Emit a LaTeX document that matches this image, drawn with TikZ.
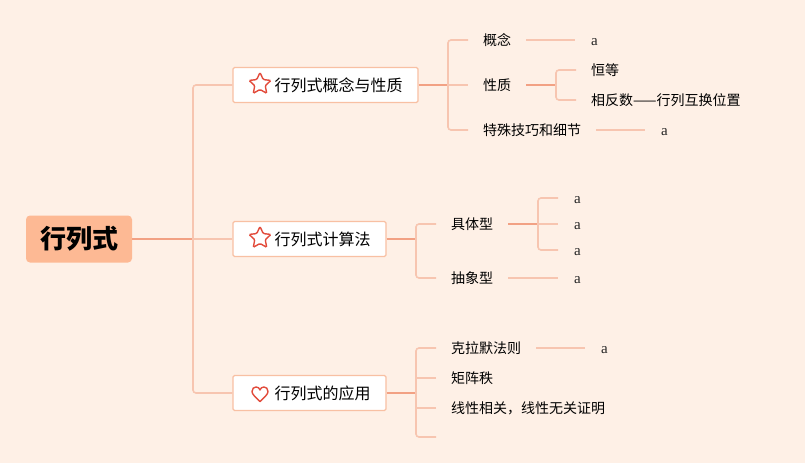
\documentclass[tikz,border=0pt]{standalone}
\usepackage{fontspec}
\newfontfamily\cjk{Noto Sans CJK SC}
\newfontfamily\leaffont{Liberation Serif}
\usetikzlibrary{shapes.geometric}
\definecolor{bgc}{HTML}{FEF0E6}
\definecolor{rootc}{HTML}{FDB994}
\definecolor{boxc}{HTML}{F8C0A3}
\definecolor{dkc}{HTML}{F2A184}
\definecolor{ltc}{HTML}{F7C5B0}
\definecolor{iconc}{HTML}{E24B3B}
\tikzset{
  root/.style={fill=rootc,rounded corners=4pt,minimum width=106pt,minimum height=47pt,inner sep=0pt,font=\cjk\bfseries\fontsize{26}{26}\selectfont},
  topic/.style={draw=boxc,fill=white,line width=1.2pt,rounded corners=1.5pt,minimum height=35pt,inner xsep=15.5pt,font=\cjk\fontsize{16}{16}\selectfont},
  sub/.style={anchor=west,inner xsep=15pt,font=\cjk\fontsize{14}{14}\selectfont},
  leaf/.style={anchor=west,inner xsep=16pt,text height=11pt,text depth=0pt,text=black!85,font=\leaffont\fontsize{15}{15}\selectfont},
  dk/.style={draw=dkc,line width=1.6pt},
  lt/.style={draw=ltc,line width=1.6pt,rounded corners=3pt},
  staricon/.style={star,star points=5,star point ratio=2.1,draw=iconc,line width=1.4pt,minimum size=23pt,inner sep=0pt,rounded corners=1.2pt},
  hearticon/.style={draw=iconc,line width=1.4pt,line join=round}
}
\begin{document}
\begin{tikzpicture}[x=1pt,y=-1pt]
\fill[bgc] (0,0) rectangle (805,463);
\useasboundingbox (0,0) rectangle (805,463);

\node[root] (r) at (79,239) {行列式};
\node[topic] (b1) at (325.5,85) {\makebox[26pt]{}行列式概念与性质};
\node[topic] (b2) at (309.5,239) {\makebox[26pt]{}行列式计算法};
\node[topic] (b3) at (309.5,393) {\makebox[26pt]{}行列式的应用};
\node[staricon] (s1) at (260,84) {};
\node[staricon] (s2) at (260,238) {};
\draw[hearticon,shift={(260,394)}] (0,7.5) .. controls (-4,3.5) and (-8,0.5) .. (-8,-2.5) .. controls (-8,-5.5) and (-6,-7) .. (-4,-7) .. controls (-2,-7) and (-0.5,-6) .. (0,-4) .. controls (0.5,-6) and (2,-7) .. (4,-7) .. controls (6,-7) and (8,-5.5) .. (8,-2.5) .. controls (8,0.5) and (4,3.5) .. (0,7.5) -- cycle;

\coordinate (j0) at (193,239);
\draw[dk] (r.east) -- (j0);
\draw[lt] (b1.west) -| (j0) |- (b3.west);
\draw[lt] (j0) -- (b2.west);

\node[sub] (n11) at (468,40) {概念};
\node[sub] (n12) at (468,85) {性质};
\node[sub] (n13) at (468,130) {特殊技巧和细节};
\node[sub] (n121) at (576,70) {恒等};
\node[sub] (n122) at (576,100) {相反数——行列互换位置};
\node[leaf] (a11) at (575,40) {a};
\node[leaf] (a13) at (645,130) {a};
\coordinate (j1) at (448,85);
\coordinate (j12) at (556,85);
\draw[dk] (b1.east) -- (j1);
\draw[lt] (n11.west) -| (j1) |- (n13.west);
\draw[lt] (j1) -- (n12.west);
\draw[dk] (n12.east) -- (j12);
\draw[lt] (n121.west) -| (j12) |- (n122.west);
\draw[lt] (n11.east) -- (a11.west);
\draw[lt] (n13.east) -- (a13.west);

\node[sub] (n21) at (436,224) {具体型};
\node[sub] (n22) at (436,278) {抽象型};
\foreach \i/\y in {1/198,2/224,3/250}
    \node[leaf] (a21\i) at (558,\y) {a};
\node[leaf] (a22) at (558,278) {a};
\coordinate (j2) at (416,239);
\coordinate (j21) at (538,224);
\draw[dk] (b2.east) -- (j2);
\draw[lt] (n21.west) -| (j2) |- (n22.west);
\draw[dk] (n21.east) -- (j21);
\draw[lt] (a211.west) -| (j21) |- (a213.west);
\draw[lt] (j21) -- (a212.west);
\draw[lt] (n22.east) -- (a22.west);

\node[sub] (n31) at (436,348) {克拉默法则};
\node[sub] (n32) at (436,378) {矩阵秩};
\node[sub] (n33) at (436,408) {线性相关，线性无关证明};
\coordinate (n34) at (436,437);
\node[leaf] (a31) at (585,348) {a};
\coordinate (j3) at (416,393);
\draw[dk] (b3.east) -- (j3);
\draw[lt] (n31.west) -| (j3) |- (n34);
\foreach \n in {n32,n33}
    \draw[lt] (\n.west) -- (\n.west -| j3);
\draw[lt] (n31.east) -- (a31.west);
\end{tikzpicture}
\end{document}
